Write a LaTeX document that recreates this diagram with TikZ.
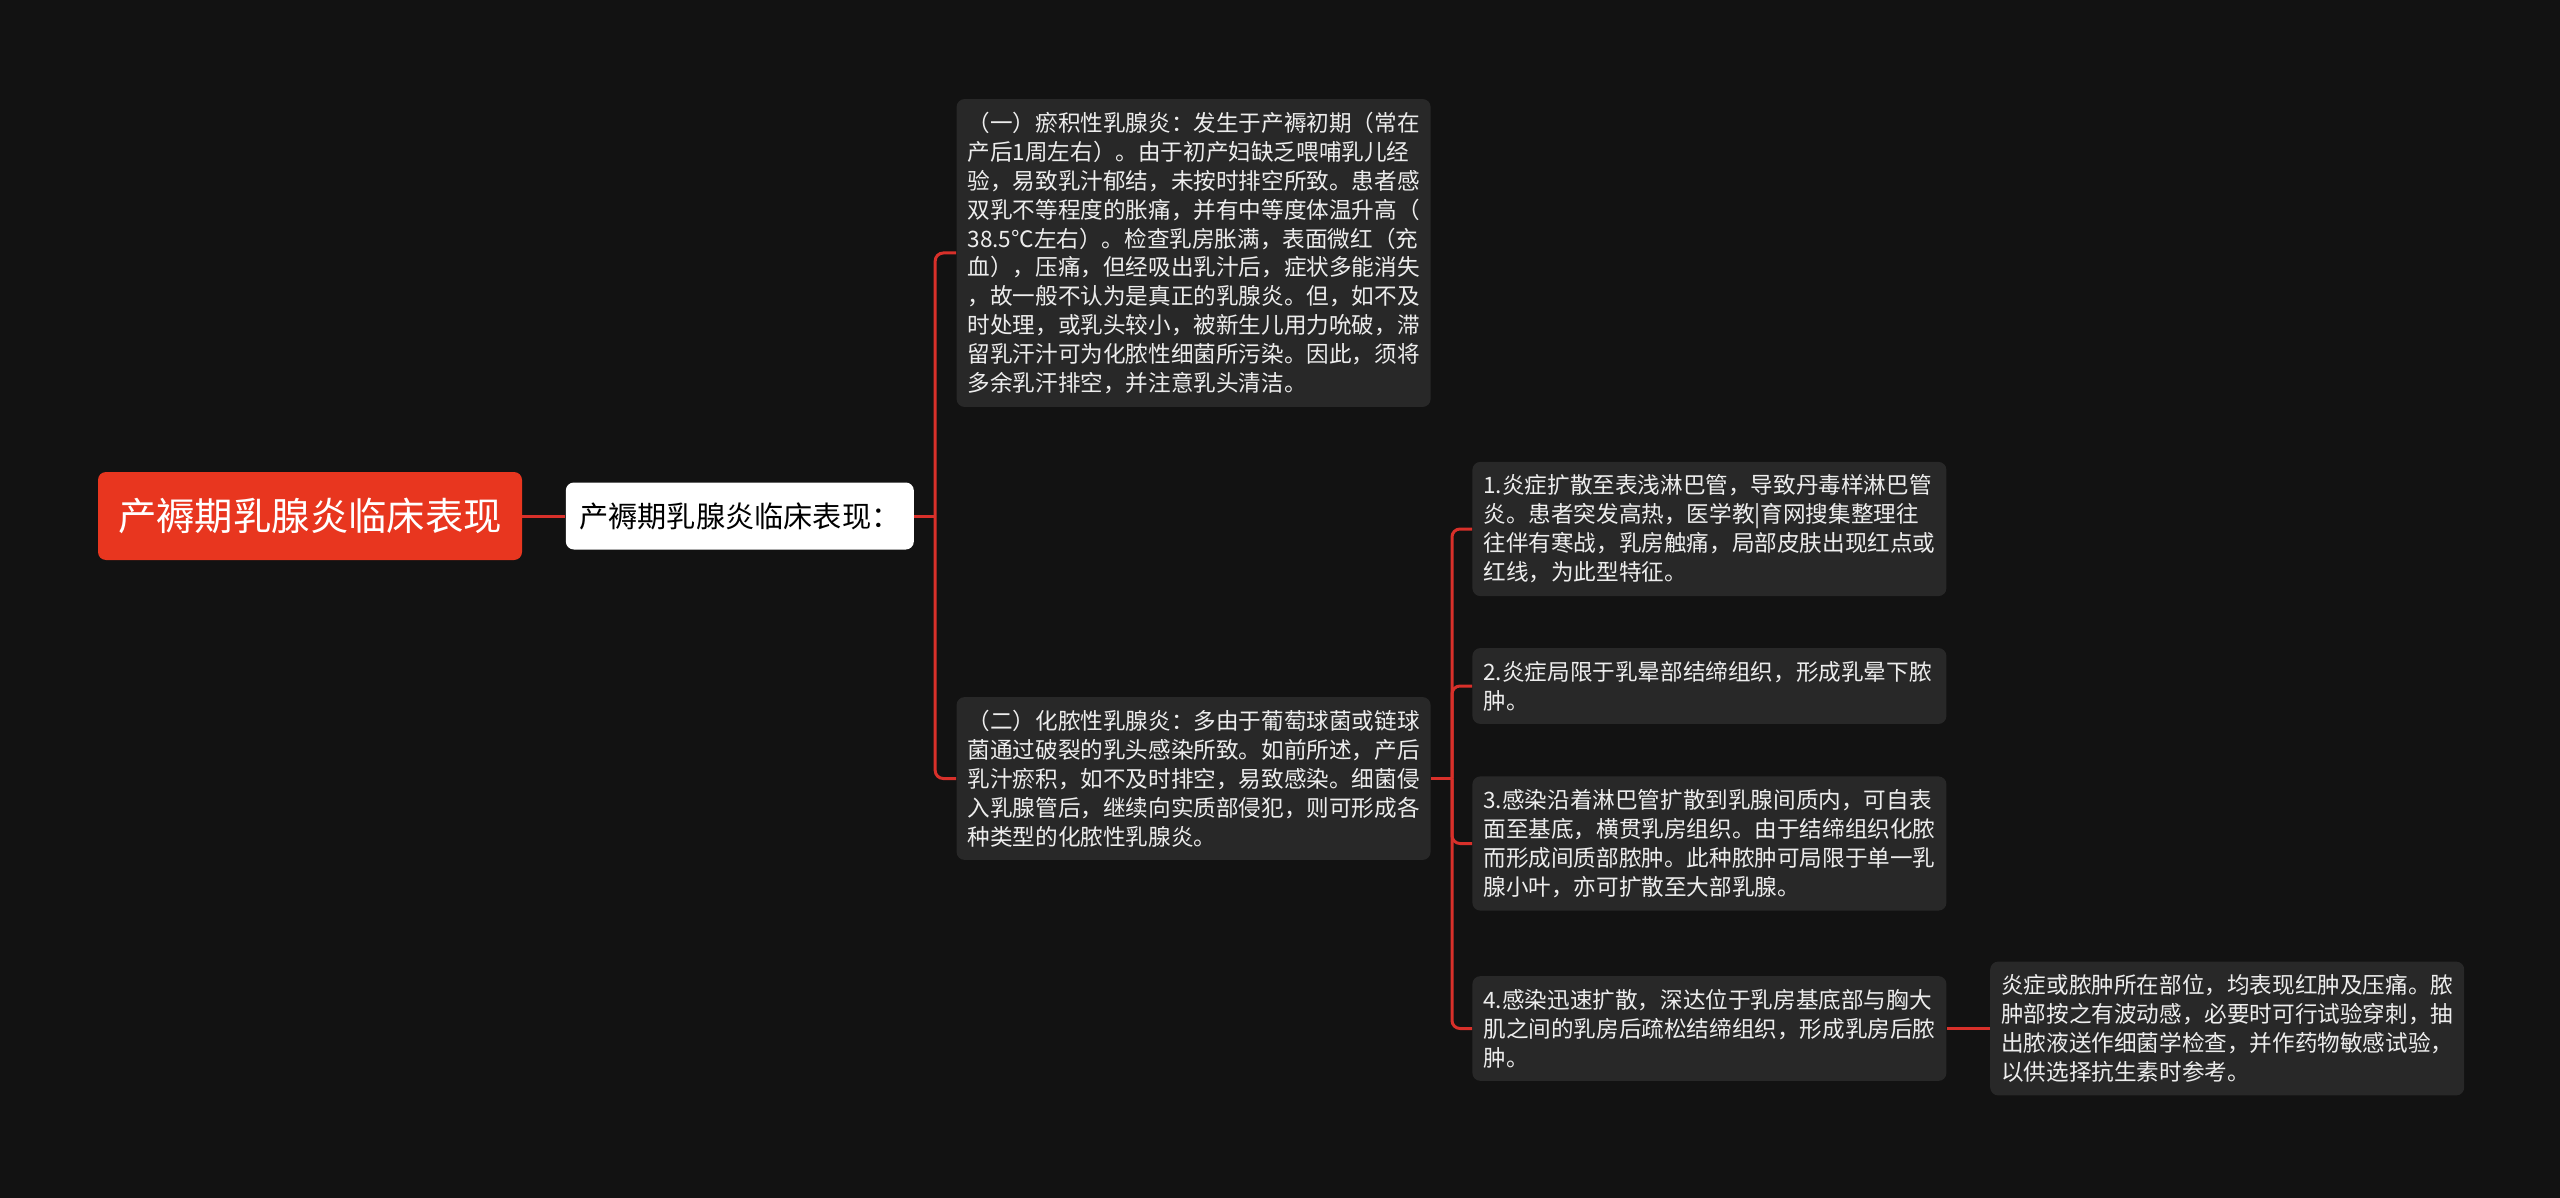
\documentclass[tikz,border=0pt]{standalone}
\usepackage{fontspec}
\setmainfont{Noto Sans CJK SC}
\usepackage{xcolor}
\usepackage{tikz}
\usetikzlibrary{positioning}
\definecolor{canvas}{HTML}{121212}
\definecolor{rootred}{HTML}{E8361F}
\definecolor{linkred}{HTML}{D8302A}
\definecolor{boxgray}{HTML}{282828}
\definecolor{notetext}{HTML}{EDEDED}

\begin{document}
\begin{tikzpicture}[
  x=0.5pt, y=0.5pt,
  topic/.style={fill=rootred, text=white, rounded corners=4pt, minimum width=212pt, minimum height=44pt, inner sep=0pt, font=\fontsize{19.2pt}{23pt}\selectfont},
  heading/.style={fill=white, text=black, rounded corners=4pt, minimum width=174pt, minimum height=33.5pt, inner sep=0pt, font=\fontsize{14.6pt}{18pt}\selectfont},
  note/.style={fill=boxgray, text=notetext, rounded corners=4pt, text width=226pt, inner xsep=5.5pt, inner ysep=6.5pt, align=left, font=\fontsize{11.3pt}{14.45pt}\selectfont},
  link/.style={draw=linkred, line width=1.5pt, rounded corners=4pt}
]
\useasboundingbox[fill=canvas] (0,0) rectangle (2560,-1198);

% Main topic and heading
\node[topic] (clinical) at (310,-516) {产褥期乳腺炎临床表现};
\node[heading, right=21.5pt of clinical] (manifest) {产褥期乳腺炎临床表现：};

% Two kinds of mastitis
\node[note, right=21pt of manifest, yshift=131.5pt] (stasis) {（一）瘀积性乳腺炎：发生于产褥初期（常在\\产后1周左右）。由于初产妇缺乏喂哺乳儿经\\验，易致乳汁郁结，未按时排空所致。患者感\\双乳不等程度的胀痛，并有中等度体温升高（\\38.5℃左右）。检查乳房胀满，表面微红（充\\血），压痛，但经吸出乳汁后，症状多能消失\\，故一般不认为是真正的乳腺炎。但，如不及\\时处理，或乳头较小，被新生儿用力吮破，滞\\留乳汗汁可为化脓性细菌所污染。因此，须将\\多余乳汗排空，并注意乳头清洁。};
\node[note, right=21pt of manifest, yshift=-131.25pt] (suppurative) {（二）化脓性乳腺炎：多由于葡萄球菌或链球\\菌通过破裂的乳头感染所致。如前所述，产后\\乳汁瘀积，如不及时排空，易致感染。细菌侵\\入乳腺管后，继续向实质部侵犯，则可形成各\\种类型的化脓性乳腺炎。};

% Spread of the infection
\node[note, right=20.5pt of suppurative, yshift=124.75pt] (lymph) {1.炎症扩散至表浅淋巴管，导致丹毒样淋巴管\\炎。患者突发高热，医学教|育网搜集整理往\\往伴有寒战，乳房触痛，局部皮肤出现红点或\\红线，为此型特征。};
\node[note, right=20.5pt of suppurative, yshift=46.25pt] (areola) {2.炎症局限于乳晕部结缔组织，形成乳晕下脓\\肿。};
\node[note, right=20.5pt of suppurative, yshift=-32.5pt] (interstitial) {3.感染沿着淋巴管扩散到乳腺间质内，可自表\\面至基底，横贯乳房组织。由于结缔组织化脓\\而形成间质部脓肿。此种脓肿可局限于单一乳\\腺小叶，亦可扩散至大部乳腺。};
\node[note, right=20.5pt of suppurative, yshift=-125pt] (retromammary) {4.感染迅速扩散，深达位于乳房基底部与胸大\\肌之间的乳房后疏松结缔组织，形成乳房后脓\\肿。};
\node[note, right=21.5pt of retromammary] (signs) {炎症或脓肿所在部位，均表现红肿及压痛。脓\\肿部按之有波动感，必要时可行试验穿刺，抽\\出脓液送作细菌学检查，并作药物敏感试验，\\以供选择抗生素时参考。};

% Connections
\draw[link] (clinical) -- (manifest);
\draw[link] (manifest.east) -- ++(10.5pt,0) coordinate (forkleft);
\draw[link] (forkleft) |- (stasis.west);
\draw[link] (forkleft) |- (suppurative.west);

\draw[link] (suppurative.east) -- ++(10.5pt,0) coordinate (forkright);
\draw[link] (forkright) |- (lymph.west);
\draw[link] (forkright) |- (areola.west);
\draw[link] (forkright) |- (interstitial.west);
\draw[link] (forkright) |- (retromammary.west);

\draw[link] (retromammary) -- (signs);

\end{tikzpicture}
\end{document}
